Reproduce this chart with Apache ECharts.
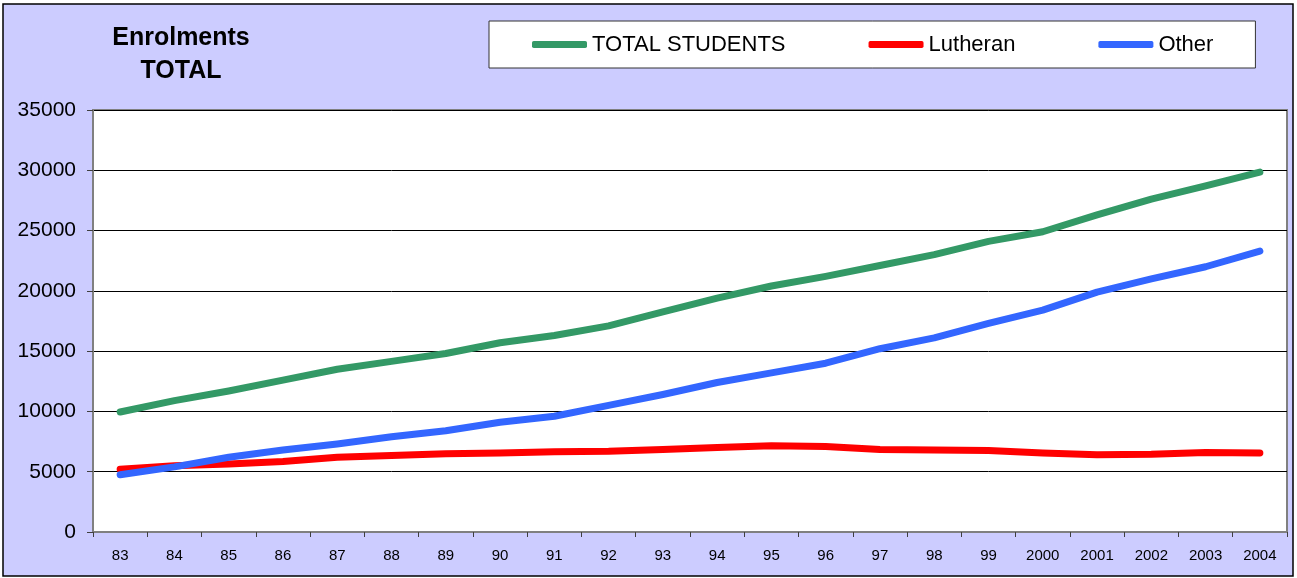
<!DOCTYPE html>
<html>
<head>
<meta charset="utf-8">
<title>Enrolments TOTAL</title>
<script src="https://cdn.jsdelivr.net/npm/echarts@6/dist/echarts.min.js"></script>
<style>
  html, body { margin: 0; padding: 0; background: #fff; }
  #chart { width: 1297px; height: 578px; }
</style>
</head>
<body>
<div id="chart"></div>
<script>
// years on the x axis
const years = ['83', '84', '85', '86', '87', '88', '89', '90', '91', '92', '93',
  '94', '95', '96', '97', '98', '99', '2000', '2001', '2002', '2003', '2004']

// enrolments
const totalStudents = [9950, 10900, 11700, 12600, 13500, 14150, 14800, 15700, 16300, 17100, 18250,
  19400, 20400, 21200, 22100, 23000, 24100, 24900, 26300, 27600, 28700, 29850]
const lutheran = [5200, 5500, 5650, 5850, 6200, 6350, 6500, 6550, 6650, 6700, 6850,
  7000, 7150, 7100, 6850, 6800, 6750, 6550, 6400, 6450, 6600, 6550]
const other = [4750, 5400, 6200, 6800, 7300, 7900, 8400, 9100, 9600, 10500, 11400,
  12400, 13200, 14000, 15200, 16100, 17300, 18400, 19900, 21000, 22000, 23300]

const font = "'Liberation Sans', Arial, sans-serif"

const lineSeries = (name, data, color) => ({
  name: name,
  type: 'line',
  data: data,
  showSymbol: false,
  symbol: 'none',
  color: color,
  lineStyle: { width: 7, color: color, cap: 'round', join: 'round' },
  emphasis: { disabled: true },
  animation: false
})

const myChart = echarts.init(document.getElementById('chart'))
const option = {
  backgroundColor: '#fff',
  animation: false,
  graphic: [
    {
      type: 'rect',
      z: -10,
      silent: true,
      shape: { x: 3, y: 4, width: 1290, height: 572 },
      style: { fill: '#CCCCFF', stroke: '#000', lineWidth: 1.5 }
    }
  ],
  title: {
    text: 'Enrolments\nTOTAL',
    left: 181,
    top: 22,
    padding: 0,
    textAlign: 'center',
    textStyle: { fontFamily: font, fontSize: 25, fontWeight: 'bold', color: '#000', lineHeight: 33 }
  },
  legend: {
    left: 489,
    top: 21,
    padding: [12, 42, 12, 43],
    backgroundColor: '#fff',
    borderColor: '#333',
    borderWidth: 1,
    itemWidth: 55,
    itemHeight: 7,
    itemGap: 83,
    icon: 'roundRect',
    selectedMode: false,
    textStyle: { fontFamily: font, fontSize: 22, color: '#000', lineHeight: 23 },
    data: ['TOTAL STUDENTS', 'Lutheran', 'Other']
  },
  grid: {
    left: 93,
    top: 110,
    right: 10,
    bottom: 46,
    show: true,
    backgroundColor: '#fff',
    borderColor: '#808080',
    borderWidth: 2
  },
  xAxis: {
    type: 'category',
    data: years,
    boundaryGap: true,
    axisLine: { lineStyle: { color: '#808080', width: 2 } },
    axisTick: { show: true, length: 5, inside: false, lineStyle: { color: '#404040' } },
    axisLabel: { fontFamily: font, fontSize: 15, color: '#000', margin: 16, interval: 0 }
  },
  yAxis: {
    type: 'value',
    min: 0,
    max: 35000,
    interval: 5000,
    axisLine: { show: true, lineStyle: { color: '#808080', width: 2 } },
    axisTick: { show: true, length: 6, lineStyle: { color: '#404040' } },
    axisLabel: {
      fontFamily: font, fontSize: 21, color: '#000', margin: 17,
      formatter: (v) => String(v)
    },
    splitLine: { show: true, lineStyle: { color: '#000', width: 1 } }
  },
  series: [
    lineSeries('TOTAL STUDENTS', totalStudents, '#339966'),
    lineSeries('Lutheran', lutheran, '#FF0000'),
    lineSeries('Other', other, '#3366FF')
  ]
}
myChart.setOption(option)
</script>
</body>
</html>
